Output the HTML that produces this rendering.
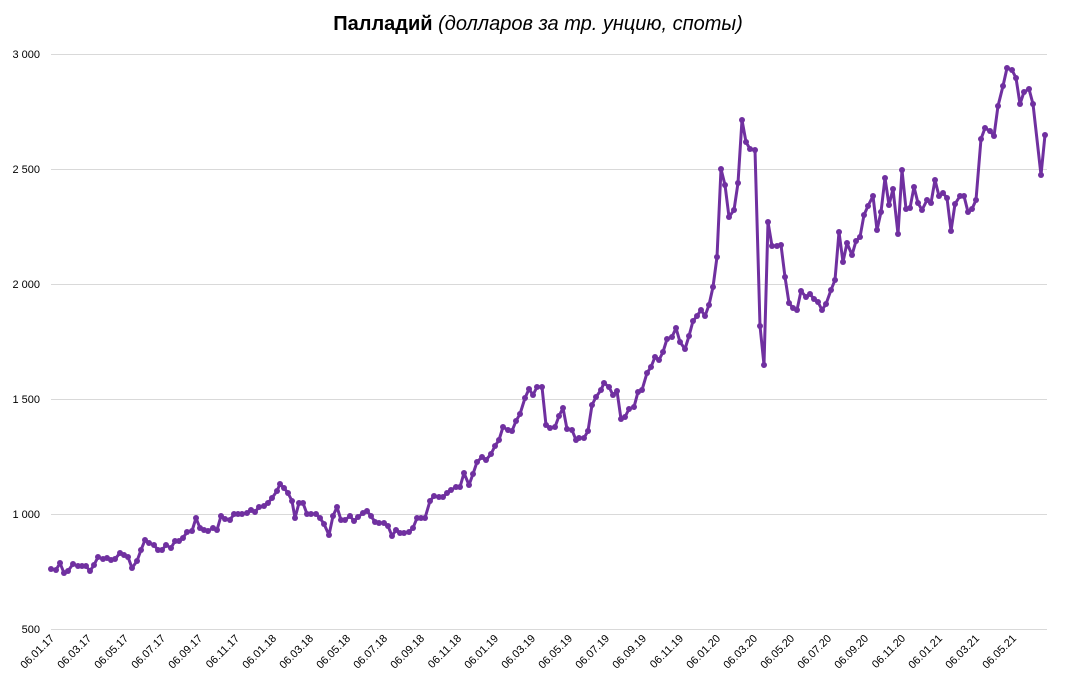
<!DOCTYPE html>
<html><head><meta charset="utf-8"><style>
body{margin:0;background:#fff;}
svg{display:block;font-family:"Liberation Sans",sans-serif;}
</style></head><body>
<svg width="1074" height="693" viewBox="0 0 1074 693" xmlns="http://www.w3.org/2000/svg">
<defs>
<marker id="m" markerUnits="userSpaceOnUse" markerWidth="8" markerHeight="8" refX="4" refY="4" viewBox="0 0 8 8"><circle cx="4" cy="4" r="3" fill="#7030a0"/></marker>
</defs>
<text x="538" y="30" text-anchor="middle" font-size="20" fill="#000"><tspan font-weight="bold">Палладий</tspan><tspan font-style="italic"> (долларов за тр. унцию, споты)</tspan></text>
<g stroke="#d9d9d9" stroke-width="1">
<line x1="51" y1="54.5" x2="1047" y2="54.5"/>
<line x1="51" y1="169.5" x2="1047" y2="169.5"/>
<line x1="51" y1="284.5" x2="1047" y2="284.5"/>
<line x1="51" y1="399.5" x2="1047" y2="399.5"/>
<line x1="51" y1="514.5" x2="1047" y2="514.5"/>
<line x1="51" y1="629.5" x2="1047" y2="629.5"/>
</g>
<g font-size="11" text-anchor="end" fill="#000">
<text x="40" y="58">3 000</text>
<text x="40" y="173">2 500</text>
<text x="40" y="288">2 000</text>
<text x="40" y="403">1 500</text>
<text x="40" y="518">1 000</text>
<text x="40" y="633">500</text>
</g>
<g font-size="11" text-anchor="end" fill="#000">
<text transform="translate(55,639) rotate(-45)">06.01.17</text>
<text transform="translate(92,639) rotate(-45)">06.03.17</text>
<text transform="translate(129,639) rotate(-45)">06.05.17</text>
<text transform="translate(166,639) rotate(-45)">06.07.17</text>
<text transform="translate(203,639) rotate(-45)">06.09.17</text>
<text transform="translate(240,639) rotate(-45)">06.11.17</text>
<text transform="translate(277,639) rotate(-45)">06.01.18</text>
<text transform="translate(314,639) rotate(-45)">06.03.18</text>
<text transform="translate(351,639) rotate(-45)">06.05.18</text>
<text transform="translate(388,639) rotate(-45)">06.07.18</text>
<text transform="translate(425,639) rotate(-45)">06.09.18</text>
<text transform="translate(462,639) rotate(-45)">06.11.18</text>
<text transform="translate(499,639) rotate(-45)">06.01.19</text>
<text transform="translate(536,639) rotate(-45)">06.03.19</text>
<text transform="translate(573,639) rotate(-45)">06.05.19</text>
<text transform="translate(610,639) rotate(-45)">06.07.19</text>
<text transform="translate(647,639) rotate(-45)">06.09.19</text>
<text transform="translate(684,639) rotate(-45)">06.11.19</text>
<text transform="translate(721,639) rotate(-45)">06.01.20</text>
<text transform="translate(758,639) rotate(-45)">06.03.20</text>
<text transform="translate(795,639) rotate(-45)">06.05.20</text>
<text transform="translate(832,639) rotate(-45)">06.07.20</text>
<text transform="translate(869,639) rotate(-45)">06.09.20</text>
<text transform="translate(906,639) rotate(-45)">06.11.20</text>
<text transform="translate(943,639) rotate(-45)">06.01.21</text>
<text transform="translate(980,639) rotate(-45)">06.03.21</text>
<text transform="translate(1017,639) rotate(-45)">06.05.21</text>
</g>
<polyline fill="none" stroke="#7030a0" stroke-width="3" stroke-linejoin="round" marker-start="url(#m)" marker-mid="url(#m)" marker-end="url(#m)" points="51,569 56,570 60,563 64,573 68,571 73,564 78,566 82,566 86,566 90,571 94,565 98,557 103,559 107,558 111,560 115,559 120,553 124,555 128,557 132,568 137,561 141,550 145,540 149,543 154,545 158,550 162,550 166,545 171,548 175,541 179,541 183,538 187,532 192,531 196,518 200,528 204,530 208,531 213,528 217,530 221,516 225,519 230,520 234,514 238,514 242,514 247,513 251,510 255,512 259,507 264,506 268,503 272,498 277,491 280,484 284,488 288,493 292,501 295,518 299,503 303,503 307,514 311,514 316,514 320,518 324,524 329,535 333,516 337,507 341,520 345,520 350,516 354,521 358,517 363,513 367,511 371,516 375,522 379,523 384,523 388,526 392,536 396,530 400,533 404,533 409,532 413,528 417,518 421,518 425,518 430,501 434,496 439,497 443,497 447,493 451,490 456,487 460,487 464,473 469,485 473,474 477,462 482,457 486,460 491,454 495,446 499,440 503,427 508,430 512,431 516,421 520,414 525,398 529,389 533,395 537,387 542,387 546,425 550,428 555,427 559,416 563,408 567,429 572,430 576,440 579,438 584,438 588,431 592,405 596,397 601,390 604,383 609,387 613,395 617,391 621,419 625,417 629,409 634,407 638,392 642,390 647,373 651,367 655,357 659,360 663,352 667,339 672,337 676,328 680,342 685,349 689,336 693,321 697,316 701,310 705,316 709,305 713,287 717,257 721,169 725,185 729,217 734,210 738,183 742,120 746,142 750,149 755,150 760,326 764,365 768,222 772,246 777,246 781,245 785,277 789,303 793,308 797,310 801,291 806,297 810,294 814,299 818,302 822,310 826,304 831,290 835,280 839,232 843,262 847,243 852,255 856,241 860,237 864,215 868,206 873,196 877,230 881,212 885,178 889,205 893,189 898,234 902,170 906,209 910,208 914,187 918,203 922,210 927,200 931,203 935,180 939,196 943,193 947,198 951,231 955,204 960,196 964,196 968,212 972,209 976,200 981,139 985,128 990,131 994,136 998,106 1003,86 1007,68 1012,70 1016,78 1020,104 1024,92 1029,89 1033,104 1041,175 1045,135"/>
</svg>
</body></html>
